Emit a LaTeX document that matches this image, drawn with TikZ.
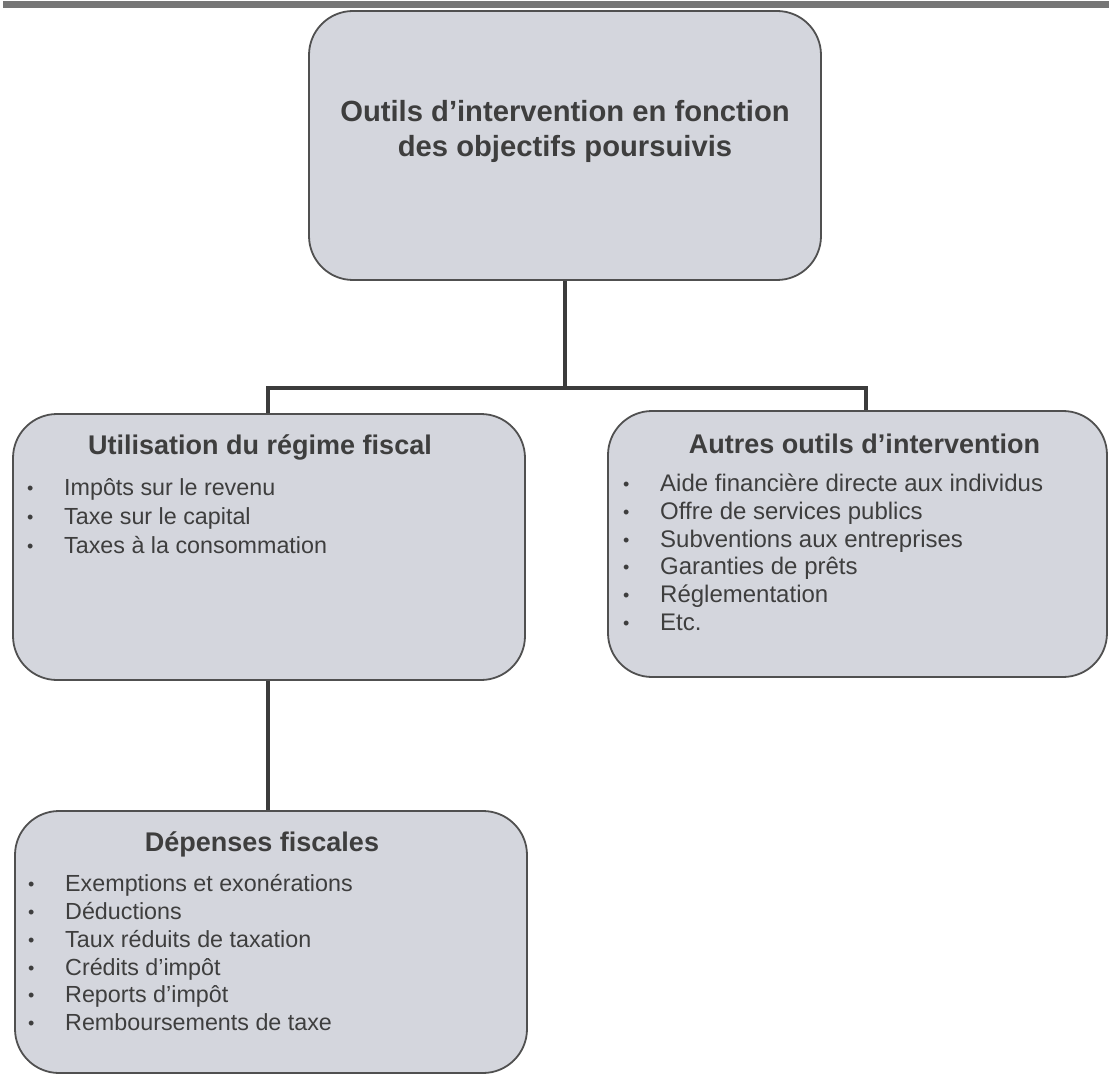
\documentclass[tikz,border=0pt]{standalone}
\usepackage{fontspec}
\setmainfont{Liberation Sans}
\definecolor{boxfill}{RGB}{212,214,221}
\definecolor{boxline}{RGB}{80,80,80}
\definecolor{txt}{RGB}{62,62,62}
\definecolor{conncol}{RGB}{60,60,60}
\definecolor{barcol}{RGB}{118,118,118}
\newcommand{\bul}{\llap{\makebox[0pt]{\fontsize{18}{20}\selectfont\raisebox{1pt}{•}}\hspace{34pt}}}
\tikzset{
  panel/.style={draw=boxline, line width=1.8pt, fill=boxfill, rounded corners=44pt, inner sep=0pt},
  conn/.style={draw=conncol, line width=4.5pt},
  titletxt/.style={text=txt, font=\bfseries\fontsize{27}{32}\selectfont, inner sep=0pt, anchor=base},
  listtxt/.style={text=txt, inner sep=0pt, anchor=base west},
}
\begin{document}
\begin{tikzpicture}[x=1pt,y=-1pt]
\useasboundingbox (0,0) rectangle (1109,1075);
\fill[barcol] (3,1) rectangle (1109,8);
% boxes
\node[panel, minimum width=512pt, minimum height=269pt] (top) at (565,145.5) {};
\node[panel, minimum width=512pt, minimum height=266pt] (left) at (269,547) {};
\node[panel, minimum width=499pt, minimum height=266pt] (right) at (857.5,544) {};
\node[panel, minimum width=512pt, minimum height=262pt] (bottom) at (271,942) {};
% connectors
\coordinate (jl) at (268,388);
\coordinate (jr) at (866,388);
\coordinate (jb) at (268,745);
\draw[conn] (top.south) -- (top.south |- jl);
\draw[conn] (left.north -| jl) -- (jl) -- (jr) -- (right.north -| jr);
\draw[conn] (left.south -| jb) -- (bottom.north -| jb);
% titles
\node[titletxt, font=\bfseries\fontsize{29.2}{34.5}\selectfont] (t1) at (565,121.7) {Outils d’intervention en fonction};
\node[titletxt, font=\bfseries\fontsize{29.2}{34.5}\selectfont] (t2) at (565,156.2) {des objectifs poursuivis};
\node[titletxt] (lt) at (260,454.3) {Utilisation du régime fiscal};
\node[titletxt] (rt) at (864.5,453.3) {Autres outils d’intervention};
\node[titletxt] (bt) at (262,851.7) {Dépenses fiscales};
% lists
\node[listtxt] (ll) at (64,495.7) {\fontsize{23.3}{29}\selectfont
  \begin{tabular}[t]{@{}l@{}}
  \bul Impôts sur le revenu\\
  \bul Taxe sur le capital\\
  \bul Taxes à la consommation
  \end{tabular}};
\node[listtxt] (rl) at (660,491.7) {\fontsize{24}{27.7}\selectfont
  \begin{tabular}[t]{@{}l@{}}
  \bul Aide financière directe aux individus\\
  \bul Offre de services publics\\
  \bul Subventions aux entreprises\\
  \bul Garanties de prêts\\
  \bul Réglementation\\
  \bul Etc.
  \end{tabular}};
\node[listtxt] (bl) at (65,891.7) {\fontsize{23.3}{27.8}\selectfont
  \begin{tabular}[t]{@{}l@{}}
  \bul Exemptions et exonérations\\
  \bul Déductions\\
  \bul Taux réduits de taxation\\
  \bul Crédits d’impôt\\
  \bul Reports d’impôt\\
  \bul Remboursements de taxe
  \end{tabular}};
\end{tikzpicture}
\end{document}
